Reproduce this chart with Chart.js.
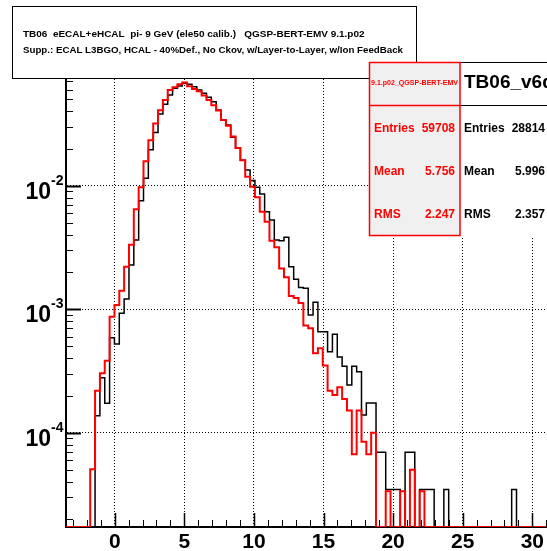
<!DOCTYPE html>
<html>
<head>
<meta charset="utf-8">
<script src="https://cdn.jsdelivr.net/npm/chart.js@4.4.1/dist/chart.umd.min.js"></script>
<style>
  html, body { margin: 0; padding: 0; background: #fff; overflow: hidden; }
  canvas { display: block; }
</style>
</head>
<body>
<canvas id="histChart" width="547" height="551"></canvas>
<script>
// binning of both histograms (100 bins from -3.5)
const binLow = -3.5;
const binWidth = 0.348;

// QGSP-BERT-EMV 9.1.p02 (red), fraction of entries per bin
const simValues = [
  0, 0, 0, 0, 0, 5.05e-5, 2.19e-4, 3.03e-4, 3.83e-4, 8.69e-4,
  1.08e-3, 1.41e-3, 2.21e-3, 3.33e-3, 6.44e-3, 9.71e-3, 0.0158, 0.0233, 0.0319, 0.0408,
  0.0494, 0.0595, 0.0626, 0.0664, 0.0685, 0.0638, 0.0607, 0.0582, 0.0537, 0.0494,
  0.0448, 0.0406, 0.0340, 0.0306, 0.0250, 0.0202, 0.0161, 0.0118, 9.80e-3, 8.07e-3,
  6.16e-3, 5.11e-3, 3.59e-3, 3.17e-3, 2.14e-3, 1.81e-3, 1.28e-3, 1.23e-3, 1.12e-3, 7.38e-4,
  7.00e-4, 4.39e-4, 4.83e-4, 3.50e-4, 2.19e-4, 2.02e-4, 2.33e-4, 1.87e-4, 1.51e-4, 6.70e-5,
  1.51e-4, 8.46e-5, 6.70e-5, 1.00e-4, 0, 0, 3.35e-5, 0, 0, 3.35e-5,
  0, 5.02e-5, 0, 3.35e-5, 0, 0, 0, 0, 0, 0,
  0, 0, 0, 0, 0, 0, 0, 0, 0, 0,
  0, 0, 0, 0, 0, 0, 0, 0, 0, 0
];

// TB06_v6d data (black)
const dataValues = [
  0, 0, 0, 0, 0, 0, 1.37e-4, 2.79e-4, 1.73e-4, 5.88e-4,
  5.23e-4, 9.26e-4, 1.21e-3, 2.28e-3, 3.63e-3, 7.56e-3, 0.0115, 0.0195, 0.0269, 0.0381,
  0.0456, 0.0543, 0.0615, 0.0642, 0.0675, 0.0662, 0.0633, 0.0595, 0.0560, 0.0520,
  0.0479, 0.0410, 0.0340, 0.0310, 0.0247, 0.0201, 0.0161, 0.0134, 0.0110, 9.70e-3,
  8.57e-3, 6.16e-3, 5.28e-3, 3.63e-3, 3.59e-3, 3.82e-3, 2.21e-3, 1.75e-3, 1.50e-3, 1.48e-3,
  8.97e-4, 1.14e-3, 6.57e-4, 6.57e-4, 4.53e-4, 6.26e-4, 4.10e-4, 3.45e-4, 2.43e-4, 3.45e-4,
  3.12e-4, 1.39e-4, 1.74e-4, 1.74e-4, 6.94e-5, 6.94e-5, 3.47e-5, 3.47e-5, 3.47e-5, 0,
  6.94e-5, 6.94e-5, 0, 3.47e-5, 3.47e-5, 3.47e-5, 0, 0, 3.47e-5, 0,
  0, 0, 0, 0, 0, 0, 0, 0, 0, 0,
  0, 0, 3.47e-5, 0, 0, 0, 0, 0, 0, 0
];

const xTickValues = [0, 5, 10, 15, 20, 25, 30];
const yDecades = [1e-4, 1e-3, 1e-2];
const yDecadeExps = ['-4', '-3', '-2'];

const titleLines = [
  'TB06  eECAL+eHCAL  pi- 9 GeV (ele50 calib.)   QGSP-BERT-EMV 9.1.p02',
  'Supp.: ECAL L3BGO, HCAL - 40%Def., No Ckov, w/Layer-to-Layer, w/Ion FeedBack'
];
const statLabels = ['Entries', 'Mean', 'RMS'];
const simName = '9.1.p02_QGSP-BERT-EMV';
const simStats = ['59708', '5.756', '2.247'];
const dataName = 'TB06_v6d';
const dataStats = ['28814', '5.996', '2.357'];

const X_MIN = -3.5, X_MAX = 31.0;
const Y_MIN = 1.723e-5, Y_MAX = 0.0773;
const FONT = '"Liberation Sans", Arial, Helvetica, sans-serif';

function stepPoints(values) {
  const pts = values.map((v, i) => ({ x: binLow + i * binWidth, y: v > 0 ? v : Y_MIN }));
  const last = values[values.length - 1];
  pts.push({ x: binLow + values.length * binWidth, y: last > 0 ? last : Y_MIN });
  return pts;
}

function fitText(ctx, text, x, y, width, align) {
  ctx.font = 'bold 10px ' + FONT;
  const size = 10 * width / ctx.measureText(text).width;
  ctx.font = 'bold ' + size.toFixed(2) + 'px ' + FONT;
  ctx.textAlign = align || 'left';
  ctx.fillText(text, x, y);
}

const decorations = {
  id: 'rootDecor',
  afterDatasetsDraw(chart) {
    const { ctx, chartArea: a, scales: { x, y } } = chart;
    ctx.save();
    ctx.strokeStyle = '#000';
    // inward ticks on the y axis
    for (let n = -5; n <= -1; n++) {
      for (let m = 1; m <= 9; m++) {
        const v = m * Math.pow(10, n);
        if (v < Y_MIN || v > Y_MAX) continue;
        const py = Math.round(y.getPixelForValue(v)) + 0.5;
        ctx.lineWidth = m === 1 ? 2 : 1;
        ctx.beginPath();
        ctx.moveTo(a.left, py);
        ctx.lineTo(a.left + (m === 1 ? 15 : 7), py);
        ctx.stroke();
      }
    }
    // inward ticks on the x axis
    for (let t = -3; t <= 31; t++) {
      const px = Math.round(x.getPixelForValue(t)) + 0.5;
      const major = t % 5 === 0;
      ctx.lineWidth = major ? 1.5 : 1;
      ctx.beginPath();
      ctx.moveTo(px, a.bottom);
      ctx.lineTo(px, a.bottom - (major ? 14 : 7));
      ctx.stroke();
    }
    // y labels 10^n
    ctx.fillStyle = '#000';
    ctx.textBaseline = 'alphabetic';
    yDecades.forEach((v, i) => {
      const py = y.getPixelForValue(v);
      ctx.font = 'bold 23px ' + FONT;
      ctx.textAlign = 'right';
      ctx.fillText('10', 51, py + 13);
      ctx.font = 'bold 14px ' + FONT;
      ctx.textAlign = 'left';
      ctx.fillText(yDecadeExps[i], 51, py - 1);
    });
    ctx.restore();
  },
  afterDraw(chart) {
    const ctx = chart.ctx;
    ctx.save();
    // title pave
    ctx.fillStyle = '#fff';
    ctx.fillRect(12, 6, 405, 72);
    ctx.strokeStyle = '#000';
    ctx.lineWidth = 1;
    ctx.strokeRect(12.5, 6.5, 404, 72);
    ctx.fillStyle = '#000';
    fitText(ctx, titleLines[0], 23, 37, 342);
    fitText(ctx, titleLines[1], 23, 53, 380);

    // data stats box (black)
    ctx.fillStyle = '#fff';
    ctx.fillRect(460, 62, 100, 174);
    ctx.strokeStyle = '#000';
    ctx.lineWidth = 1;
    ctx.beginPath();
    ctx.moveTo(460, 62.5); ctx.lineTo(547, 62.5);
    ctx.moveTo(460, 105.5); ctx.lineTo(547, 105.5);
    ctx.stroke();
    ctx.fillStyle = '#000';
    ctx.font = 'bold 19px ' + FONT;
    ctx.textAlign = 'left';
    ctx.fillText(dataName, 464, 88);
    const rowY = [132, 175, 218];
    ctx.font = 'bold 12px ' + FONT;
    statLabels.forEach((l, i) => {
      ctx.textAlign = 'left';
      ctx.fillText(l, 464, rowY[i]);
      ctx.textAlign = 'right';
      ctx.fillText(dataStats[i], 545, rowY[i]);
    });

    // simulation stats box (red)
    ctx.fillStyle = '#f0f0f0';
    ctx.fillRect(369, 62, 91, 174);
    ctx.strokeStyle = '#ff0000';
    ctx.lineWidth = 1.5;
    ctx.strokeRect(369.5, 62.5, 90.5, 173);
    ctx.beginPath();
    ctx.moveTo(369.5, 105.5); ctx.lineTo(460, 105.5);
    ctx.stroke();
    ctx.fillStyle = '#ff0000';
    fitText(ctx, simName, 414.5, 85, 87, 'center');
    ctx.font = 'bold 12px ' + FONT;
    statLabels.forEach((l, i) => {
      ctx.textAlign = 'left';
      ctx.fillText(l, 374, rowY[i]);
      ctx.textAlign = 'right';
      ctx.fillText(simStats[i], 455, rowY[i]);
    });
    ctx.restore();
  }
};

const ctx = document.getElementById('histChart').getContext('2d');
const histChart = new Chart(ctx, {
  type: 'line',
  data: {
    datasets: [
      {
        label: simName,
        data: stepPoints(simValues),
        borderColor: '#ff0000',
        borderWidth: 2,
        stepped: 'before',
        pointRadius: 0,
        fill: false,
      },
      {
        label: dataName,
        data: stepPoints(dataValues),
        borderColor: '#000000',
        borderWidth: 1.5,
        stepped: 'before',
        pointRadius: 0,
        fill: false,
      }
    ]
  },
  options: {
    responsive: false,
    animation: false,
    events: [],
    layout: { padding: { top: 76, left: 0, right: 0, bottom: 0 } },
    plugins: {
      legend: { display: false },
      title: { display: false },
      tooltip: { enabled: false }
    },
    scales: {
      x: {
        type: 'linear',
        min: X_MIN,
        max: X_MAX,
        afterBuildTicks: (s) => { s.ticks = xTickValues.map(v => ({ value: v })); },
        afterFit: (s) => { s.height = 24; },
        grid: { color: '#000', lineWidth: 1, drawTicks: false },
        border: { display: true, color: '#000', width: 2, dash: [1, 2] },
        ticks: {
          color: '#000',
          padding: 3,
          maxRotation: 0,
          autoSkip: false,
          font: { family: FONT, weight: 'bold', size: 21 }
        }
      },
      y: {
        type: 'logarithmic',
        min: Y_MIN,
        max: Y_MAX,
        afterBuildTicks: (s) => { s.ticks = yDecades.map(v => ({ value: v })); },
        afterFit: (s) => { s.width = 66; },
        grid: { color: '#000', lineWidth: 1, drawTicks: false },
        border: { display: true, color: '#000', width: 2, dash: [1, 2] },
        ticks: { display: false }
      }
    }
  },
  plugins: [decorations]
});
</script>
</body>
</html>
